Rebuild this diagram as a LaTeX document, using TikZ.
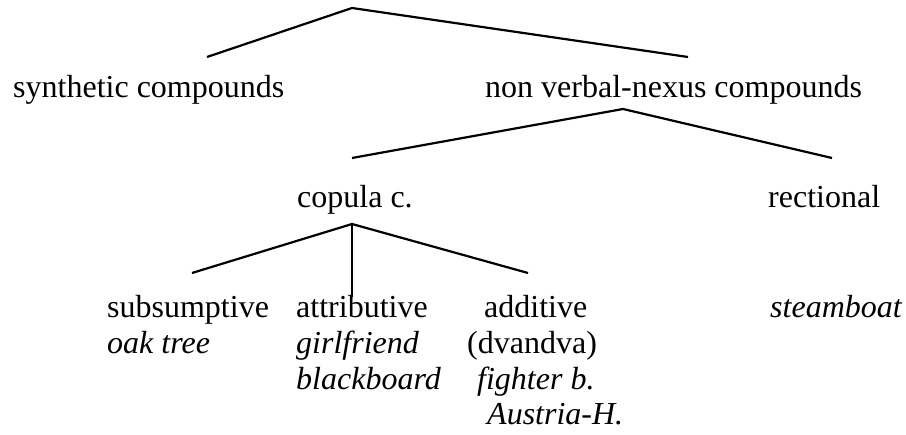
\documentclass[tikz,border=0pt]{standalone}
\usepackage{fontspec}
\setmainfont{Liberation Serif}
\usetikzlibrary{positioning}
\tikzset{
  lbl/.style={anchor=base west, inner sep=0pt, font=\fontsize{32}{36}\selectfont},
  ex/.style={lbl, font=\fontsize{32}{36}\selectfont\itshape},
  branch/.style={line width=2.2pt}
}
\begin{document}
\begin{tikzpicture}[x=1pt,y=-1pt]
\useasboundingbox (0,0) rectangle (906,435);
\node[lbl] (synth) at (13,98) {synthetic compounds};
\node[lbl] (nonverb) at (485,98) {non verbal-nexus compounds};
\node[lbl] (copula) at (297,208) {copula c.};
\node[lbl] (rect) at (768,208) {rectional};
\node[lbl] (subs) at (107,318) {subsumptive};
\node[ex] (oak) at (107,354) {oak tree};
\node[lbl] (attr) at (296,318) {attributive};
\node[ex] (girl) at (296,354) {girlfriend};
\node[ex] (black) at (296,390) {blackboard};
\node[lbl] (add) at (484,318) {additive};
\node[lbl] (dvan) at (467,354) {(dvandva)};
\node[ex] (fight) at (477,390) {fighter b.};
\node[ex] (austria) at (487,425) {Austria-H.};
\node[ex] (steam) at (770,318) {steamboat};
\coordinate (root) at (352,8);
\coordinate (synthtop) at (207,57);
\coordinate (nonverbtop) at (688,57);
\coordinate (nonverbfoot) at (623,109);
\coordinate (copulatop) at (352,158);
\coordinate (recttop) at (832,158);
\coordinate (copulafoot) at (352,224);
\coordinate (substop) at (192,273);
\coordinate (attrtop) at (352,297);
\coordinate (addtop) at (528,273);
\draw[branch] (synthtop) -- (root) -- (nonverbtop);
\draw[branch] (copulatop) -- (nonverbfoot) -- (recttop);
\draw[branch] (substop) -- (copulafoot) -- (addtop);
\draw[branch] (copulafoot) -- (attrtop);
\end{tikzpicture}
\end{document}
